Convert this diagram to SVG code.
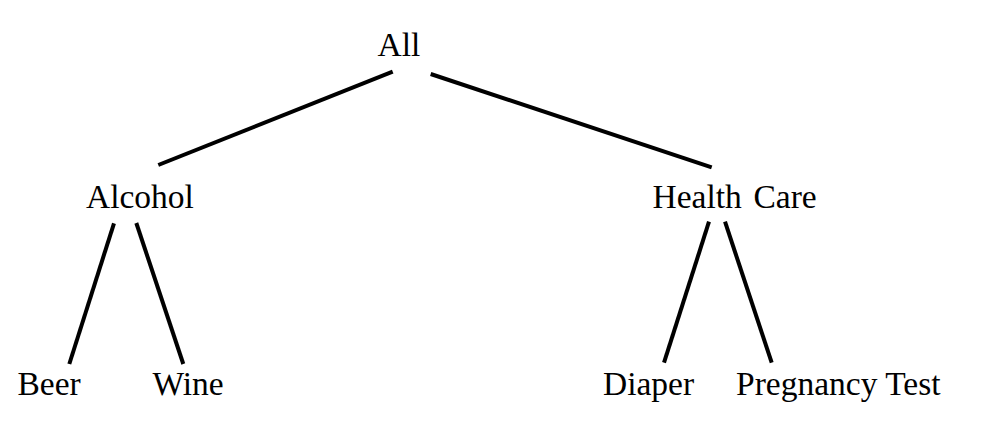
<svg xmlns="http://www.w3.org/2000/svg" width="987" height="437" viewBox="0 0 987 437">
<style>
.lbl{font-family:"Liberation Serif","Times New Roman",serif;font-size:33.5px;fill:#000}
.edge{stroke:#000;stroke-width:4;stroke-linecap:butt;fill:none}
</style>
<rect width="987" height="437" fill="#fff"/>
<g id="connectors">
<line class="edge" x1="392.7" y1="71.7" x2="158.3" y2="165"/>
<line class="edge" x1="430.7" y1="74" x2="711.7" y2="167.3"/>
<line class="edge" x1="114" y1="223.3" x2="69.3" y2="364"/>
<line class="edge" x1="136.3" y1="223" x2="183.3" y2="364"/>
<line class="edge" x1="709" y1="221.7" x2="664" y2="362.7"/>
<line class="edge" x1="725" y1="221.7" x2="771.7" y2="362.7"/>
</g>
<g id="node-all"><text class="lbl" x="377.5" y="55.7">All</text></g>
<g id="node-alcohol"><text class="lbl" x="86" y="208.3">Alcohol</text></g>
<g id="node-healthcare"><text class="lbl" x="652.5" y="208.3">Health<tspan x="753.5">Care</tspan></text></g>
<g id="node-beer"><text class="lbl" x="17.5" y="395">Beer</text></g>
<g id="node-wine"><text class="lbl" x="152.5" y="395">Wine</text></g>
<g id="node-diaper"><text class="lbl" x="603" y="395">Diaper</text></g>
<g id="node-pregnancy"><text class="lbl" x="736" y="395">Pregnancy Test</text></g>
</svg>
